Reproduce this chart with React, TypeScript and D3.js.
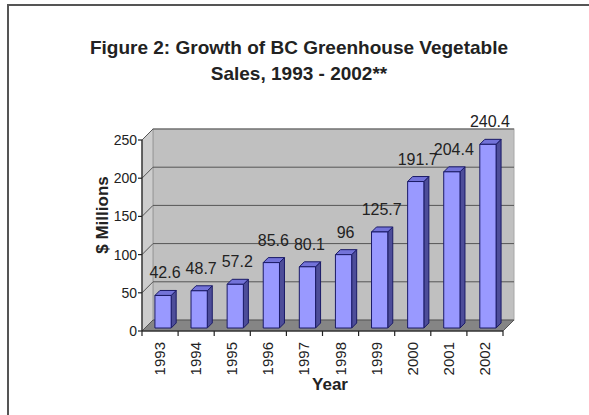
import React from "react";
import * as d3 from "d3";

const years = ["1993", "1994", "1995", "1996", "1997", "1998", "1999", "2000", "2001", "2002"];
const sales = [42.6, 48.7, 57.2, 85.6, 80.1, 96, 125.7, 191.7, 204.4, 240.4];
const yTicks = [0, 50, 100, 150, 200, 250];
const titleLines = ["Figure 2: Growth of BC Greenhouse Vegetable", "Sales, 1993 - 2002**"];

const W = 589, H = 415;
const FONT = "'Liberation Sans', Arial, sans-serif";

export default function App() {
  const left = 142, right = 503, top = 140, bottom = 331;
  const D = 11; // wall depth
  const f = 3; // bar front depth
  const dd = 5; // bar depth
  const x = d3.scaleBand<string>().domain(years).range([left, right]).padding(0);
  const y = d3.scaleLinear().domain([0, 250]).range([bottom, top]);
  const step = x.step();
  const bw = step * 0.45;

  return (
    <svg width={W} height={H} style={{ position: "absolute", left: 0, top: 0, background: "#fff" }}>
      {/* frame */}
      <path d={`M8,${H} L8,5 L${W},5`} fill="none" stroke="#555" strokeWidth={2} />
      {/* title */}
      <text x={299} y={54} textAnchor="middle" fontFamily={FONT} fontWeight="bold" fontSize={19} fill="#222">{titleLines[0]}</text>
      <text x={299} y={80} textAnchor="middle" fontFamily={FONT} fontWeight="bold" fontSize={19} fill="#222">{titleLines[1]}</text>

      {/* walls */}
      <rect x={left + D} y={top - D} width={right - left} height={bottom - top} fill="#c0c0c0" stroke="#a8a8a8" strokeWidth={1} />
      <polygon points={`${left},${bottom} ${left},${top} ${left + D},${top - D} ${left + D},${bottom - D}`} fill="#cdcdcd" stroke="#999" strokeWidth={1} />
      <polygon points={`${left},${bottom} ${right},${bottom} ${right + D},${bottom - D} ${left + D},${bottom - D}`} fill="#858585" stroke="#555" strokeWidth={1} />

      {/* gridlines */}
      {yTicks.filter(t => t > 0).map(t => (
        <polyline key={t} points={`${left},${y(t)} ${left + D},${y(t) - D} ${right + D},${y(t) - D}`} fill="none" stroke="#555" strokeWidth={1} />
      ))}

      {/* bars */}
      {years.map((yr, i) => {
        const v = sales[i];
        const x0 = (x(yr) as number) + (step - bw) / 2 + f;
        const x1 = x0 + bw;
        const yt = y(v) - f;
        const yb = y(0) - f;
        return (
          <g key={yr} stroke="#1a1a66" strokeWidth={1} strokeLinejoin="round">
            <polygon points={`${x1},${yt} ${x1 + dd},${yt - dd} ${x1 + dd},${yb - dd} ${x1},${yb}`} fill="#4d4d99" />
            <polygon points={`${x0},${yt} ${x0 + dd},${yt - dd} ${x1 + dd},${yt - dd} ${x1},${yt}`} fill="#7373d9" />
            <rect x={x0} y={yt} width={bw} height={yb - yt} fill="#9999ff" />
          </g>
        );
      })}

      {/* value labels */}
      {years.map((yr, i) => {
        const cx = (x(yr) as number) + step / 2 + f + 2;
        return (
          <text key={yr} x={cx} y={y(sales[i]) - f - 17} textAnchor="middle" fontFamily={FONT} fontSize={16} fill="#222">{sales[i]}</text>
        );
      })}

      {/* axes */}
      <line x1={left} y1={top} x2={left} y2={bottom} stroke="#222" strokeWidth={1.2} />
      <line x1={left} y1={bottom} x2={right} y2={bottom} stroke="#222" strokeWidth={1.2} />
      {yTicks.map(t => (
        <g key={t}>
          <line x1={left - 4} y1={y(t)} x2={left} y2={y(t)} stroke="#222" strokeWidth={1.2} />
          <text x={left - 5} y={y(t) + 5} textAnchor="end" fontFamily={FONT} fontSize={14} fill="#222">{t}</text>
        </g>
      ))}
      {[...years.map(yr => x(yr) as number), right].map((px, i) => (
        <line key={i} x1={px} y1={bottom} x2={px} y2={bottom + 5} stroke="#222" strokeWidth={1.2} />
      ))}
      {years.map(yr => {
        const cx = (x(yr) as number) + step / 2;
        return (
          <text key={yr} transform={`translate(${cx + 5},${bottom + 11}) rotate(-90)`} textAnchor="end" fontFamily={FONT} fontSize={15} fill="#222">{yr}</text>
        );
      })}
      <text x={330} y={390} textAnchor="middle" fontFamily={FONT} fontWeight="bold" fontSize={17} fill="#222">Year</text>
      <text transform={`translate(108,215) rotate(-90)`} textAnchor="middle" fontFamily={FONT} fontWeight="bold" fontSize={17} fill="#222">$ Millions</text>
    </svg>
  );
}
